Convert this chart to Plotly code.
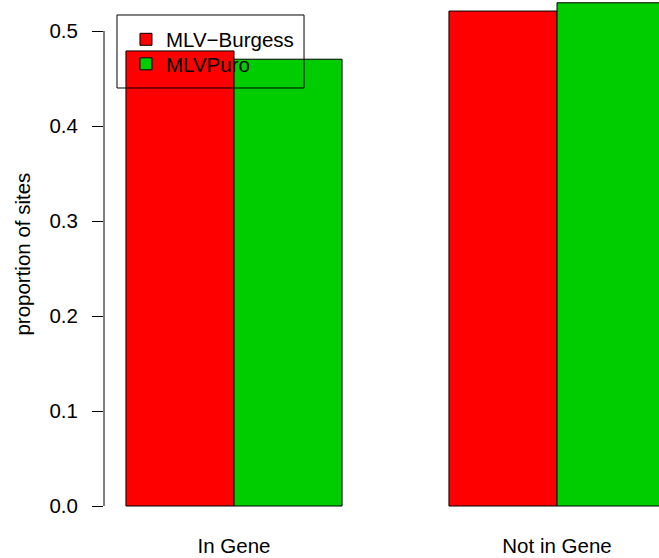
import plotly.graph_objects as go

categories = ["In Gene", "Not in Gene"]
series_names = ["MLV\u2212Burgess", "MLVPuro"]
burgess = [0.479, 0.521]
puro = [0.4703, 0.5297]
y_ticks = [0.0, 0.1, 0.2, 0.3, 0.4, 0.5]
y_title = "proportion of sites"

colors = ["#FF0000", "#00CD00"]
legend_ids = ["legend", "legend2"]
legend_rows_y = [0.9249, 0.8783]
FONT = "Liberation Sans, Arial, Helvetica, sans-serif"
FS = 20.5

fig = go.Figure()
for name, vals, col, lg in zip(series_names, [burgess, puro], colors, legend_ids):
    fig.add_trace(go.Bar(
        x=categories, y=vals, name=name, legend=lg,
        marker=dict(color=col, line=dict(color="black", width=1)),
    ))

legend_common = dict(
    x=0.0396, xanchor="left", yanchor="middle",
    bgcolor="rgba(0,0,0,0)", borderwidth=0,
    font=dict(family=FONT, size=FS, color="black"),
)

fig.update_layout(
    width=659, height=558,
    margin=dict(l=104, r=0, t=0, b=32),
    paper_bgcolor="white", plot_bgcolor="white",
    font=dict(family=FONT, size=FS, color="black"),
    barmode="group", bargap=0.331, bargroupgap=0,
    showlegend=True,
    legend=dict(y=legend_rows_y[0], **legend_common),
    legend2=dict(y=legend_rows_y[1], **legend_common),
    xaxis=dict(
        range=[-0.4025, 1.3158], showline=False, showgrid=False,
        zeroline=False, ticks="", ticklabelstandoff=5, automargin=False,
        tickfont=dict(family=FONT, size=FS, color="black"),
    ),
    yaxis=dict(
        range=[-0.02105, 0.53263], showline=False, showgrid=False,
        zeroline=False, ticks="outside", ticklen=11, tickwidth=1,
        tickcolor="black", tickvals=y_ticks, automargin=False,
        ticktext=[f"{v:.1f}" for v in y_ticks],
        ticklabelstandoff=10,
        tickfont=dict(family=FONT, size=FS, color="black"),
    ),
    shapes=[
        dict(type="line", xref="paper", yref="y", x0=0, x1=0,
             y0=min(y_ticks), y1=max(y_ticks),
             line=dict(color="black", width=1)),
        dict(type="rect", xref="paper", yref="paper",
             x0=0.0234, x1=0.3604, y0=0.8327, y1=0.9715,
             line=dict(color="black", width=1), fillcolor="rgba(0,0,0,0)",
             layer="above"),
    ],
    annotations=[
        dict(text=y_title, xref="paper", yref="paper", x=0, y=0.516,
             xanchor="center", yanchor="middle", xshift=-81, textangle=-90,
             showarrow=False, font=dict(family=FONT, size=FS, color="black")),
    ],
)

fig.write_html("out.html")
